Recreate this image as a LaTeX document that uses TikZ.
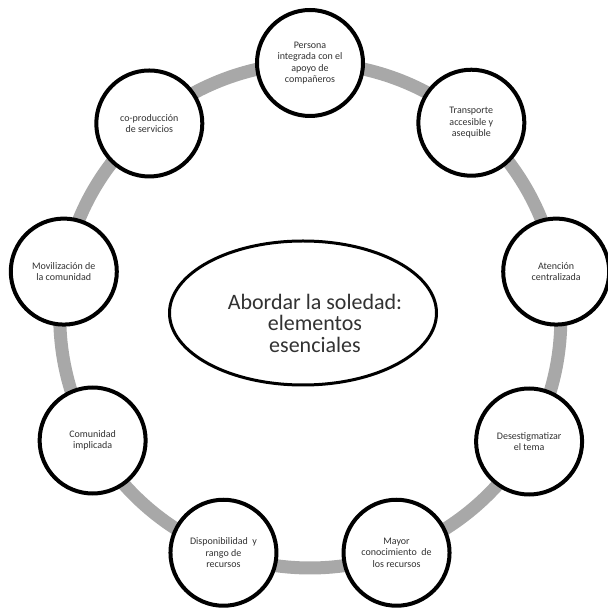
\documentclass[tikz,border=0pt]{standalone}
\usepackage{fontspec}
\setmainfont{Carlito}
\usetikzlibrary{shapes.geometric,backgrounds,calc}
\definecolor{ringgray}{RGB}{168,168,168}
\definecolor{txt}{RGB}{50,50,50}
\tikzset{
  item/.style={circle, draw=black, line width=4pt, fill=white, minimum size=106pt,
    inner sep=0pt, align=center, text=txt, font=\fontsize{10}{11.5}\selectfont},
  hub/.style={ellipse, draw=black, line width=3pt, fill=white, minimum width=267pt,
    minimum height=144pt, inner sep=0pt},
  hubtext/.style={align=center, text=txt, font=\fontsize{22}{21.5}\selectfont},
  ring/.style={draw=ringgray, line width=13pt, bend left=20, looseness=0.88}
}
\begin{document}
\begin{tikzpicture}[x=1pt,y=1pt]
\useasboundingbox (0,0) rectangle (608,608);
\coordinate (O) at (310,293);
\node[item] (n1) at ($(O)+(90:252)$) {Persona\\integrada con el\\apoyo de\\compañeros};
\node[item] (n2) at ($(O)+(50:251)$) {Transporte\\accesible y\\asequible};
\node[item] (n3) at ($(O)+(10:250)$) {Atención\\centralizada};
\node[item] (n4) at ($(O)+(-30:253)$) {Desestigmatizar\\el tema};
\node[item] (n5) at ($(O)+(-70:253)$) {Mayor\\conocimiento\ \ de\\los recursos};
\node[item] (n6) at ($(O)+(-110:253)$) {Disponibilidad\ \ y\\rango de\\recursos};
\node[item] (n7) at ($(O)+(-150:251)$) {Comunidad\\implicada};
\node[item] (n8) at ($(O)+(170:250)$) {Movilización de\\la comunidad};
\node[item] (n9) at ($(O)+(130:250)$) {co-producción\\de servicios};
\node[hub] (hub) at (303,295) {};
\node[hubtext] (title) at (315,285) {Abordar la soledad:\\elementos\\esenciales};
\begin{scope}[on background layer]
\draw[ring] (n1.center) to (n2.center);
\draw[ring] (n2.center) to (n3.center);
\draw[ring] (n3.center) to (n4.center);
\draw[ring] (n4.center) to (n5.center);
\draw[ring] (n5.center) to (n6.center);
\draw[ring] (n6.center) to (n7.center);
\draw[ring] (n7.center) to (n8.center);
\draw[ring] (n8.center) to (n9.center);
\draw[ring] (n9.center) to (n1.center);
\end{scope}
\end{tikzpicture}
\end{document}
